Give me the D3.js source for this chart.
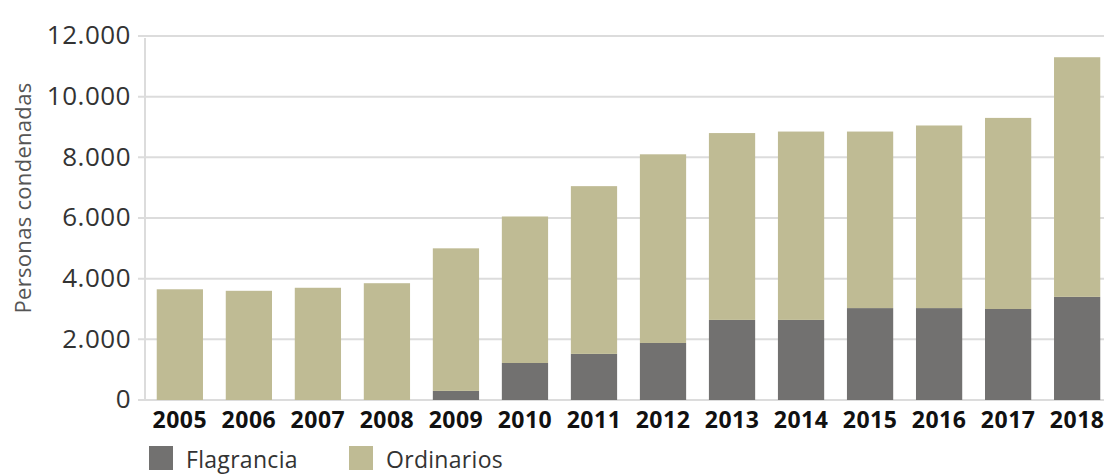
<!DOCTYPE html>
<meta charset="utf-8">
<head>
  <title>Personas condenadas</title>
</head>

<style>
body {
  margin: 0;
  background: #fff;
  font-family: "Open Sans", sans-serif;
}
</style>

<body>
  <div id="content">
    <svg width="1104" height="476"></svg>
  </div>

  <script src="https://cdnjs.cloudflare.com/ajax/libs/d3/7.8.5/d3.min.js"></script>

  <script>
// Data
var years = ['2005', '2006', '2007', '2008', '2009', '2010', '2011', '2012', '2013', '2014', '2015', '2016', '2017', '2018'];
var flagrancia = [0, 0, 0, 0, 300, 1220, 1520, 1880, 2640, 2640, 3030, 3030, 3000, 3400];
var ordinarios = [3650, 3600, 3700, 3850, 4700, 4830, 5530, 6220, 6160, 6210, 5820, 6020, 6300, 7900];
var yTicks = [0, 2000, 4000, 6000, 8000, 10000, 12000];
var seriesNames = ['Flagrancia', 'Ordinarios'];
var seriesColors = ['#727170', '#bfbb94'];

var svg = d3.select('#content svg');

var rows = years.map(function(y, i) {
  return {year: y, Flagrancia: flagrancia[i], Ordinarios: ordinarios[i]};
});

var x = d3.scaleBand()
  .domain(years)
  .range([145, 1112])
  .paddingInner(0.33)
  .paddingOuter(0.17);

var y = d3.scaleLinear()
  .domain([0, 12000])
  .range([400, 36]);

var fmt = function(d) {
  return d3.format(',')(d).replace(/,/g, '.');
};

// Gridlines
svg.append('g')
  .selectAll('line')
  .data(yTicks)
  .join('line')
  .attr('x1', 138)
  .attr('x2', 1104)
  .attr('y1', function(d) { return y(d); })
  .attr('y2', function(d) { return y(d); })
  .attr('stroke', '#dcdcdc')
  .attr('stroke-width', 2);

// vertical axis line
svg.append('line')
  .attr('x1', 145).attr('x2', 145)
  .attr('y1', y(12000) + 2).attr('y2', y(0))
  .attr('stroke', '#dcdcdc')
  .attr('stroke-width', 2);

// Y axis
var yAxis = svg.append('g')
  .attr('transform', 'translate(131,0)')
  .call(d3.axisLeft(y).tickValues(yTicks).tickFormat(fmt).tickSize(0).tickPadding(0));
yAxis.select('.domain').remove();
yAxis.selectAll('text')
  .attr('fill', '#333')
  .attr('dy', '0.3em')
  .style('font-size', '26px')
  .style('letter-spacing', '0.5px')
  .style('font-family', '"Open Sans", sans-serif');

// Stacked bars
var stack = d3.stack().keys(seriesNames);
var layers = stack(rows);

svg.append('g')
  .selectAll('g')
  .data(layers)
  .join('g')
  .attr('fill', function(d, i) { return seriesColors[i]; })
  .selectAll('rect')
  .data(function(d) { return d; })
  .join('rect')
  .attr('x', function(d) { return x(d.data.year); })
  .attr('y', function(d) { return y(d[1]); })
  .attr('width', x.bandwidth())
  .attr('height', function(d) { return y(d[0]) - y(d[1]); });

// X axis
var xAxis = svg.append('g')
  .attr('transform', 'translate(0,407)')
  .call(d3.axisBottom(x).tickSize(0).tickPadding(0));
xAxis.select('.domain').remove();
xAxis.selectAll('text')
  .attr('fill', '#111')
  .attr('dy', '0.9em')
  .style('font-size', '23px')
  .style('font-weight', 'bold')
  .style('letter-spacing', '0.5px')
  .style('font-family', '"Open Sans", sans-serif');

// Y title
svg.append('text')
  .attr('transform', 'translate(31,198) rotate(-90)')
  .attr('text-anchor', 'middle')
  .attr('fill', '#555')
  .style('font-size', '22px')
  .style('letter-spacing', '0.3px')
  .text('Personas condenadas');

// Legend
var legendX = [149, 349];
var legend = svg.append('g')
  .selectAll('g')
  .data(seriesNames)
  .join('g')
  .attr('transform', function(d, i) { return 'translate(' + legendX[i] + ',446)'; });

legend.append('rect')
  .attr('width', 24)
  .attr('height', 24)
  .attr('fill', function(d, i) { return seriesColors[i]; });

legend.append('text')
  .attr('x', 37)
  .attr('y', 22)
  .attr('fill', '#333')
  .style('font-size', '23px')
  .style('letter-spacing', '0.3px')
  .text(function(d) { return d; });
  </script>
</body>
</html>
